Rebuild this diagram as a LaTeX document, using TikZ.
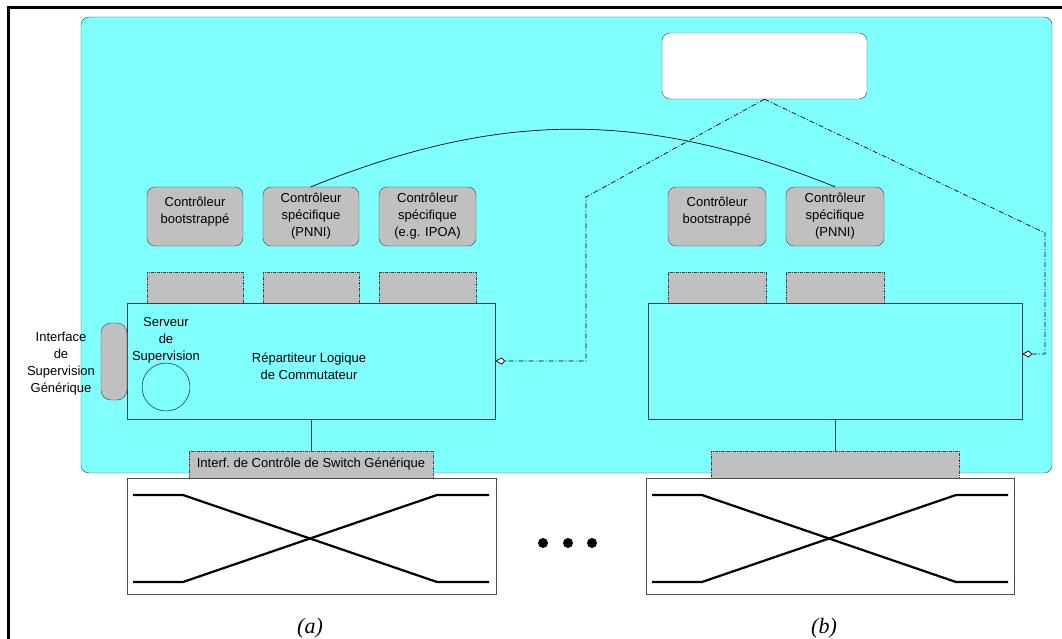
\documentclass[tikz,border=0pt]{standalone}
\usepackage{fontspec}
\setmainfont{Liberation Sans}
\newfontfamily\timesfont{Liberation Serif}
\usetikzlibrary{arrows.meta}
\definecolor{cyanbg}{RGB}{128,255,255}
\definecolor{boxgrey}{RGB}{192,192,192}
\definecolor{edge}{RGB}{55,65,65}
\begin{document}
\begin{tikzpicture}[x=1pt,y=-1pt,
  every node/.style={font=\fontsize{13}{17}\selectfont},
  ctrl/.style={draw=edge, fill=boxgrey, rounded corners=8pt, minimum height=59pt, inner sep=0pt, align=center},
  port/.style={draw=edge, fill=boxgrey, dash pattern=on 3pt off 1pt on 1pt off 1pt, minimum height=31pt, inner sep=0pt},
  mainbox/.style={draw=edge, fill=cyanbg, minimum height=116pt, inner sep=0pt},
  switchbox/.style={draw=gray!60!black, fill=white, minimum height=116pt, inner sep=0pt},
  ctl/.style={draw=black, line width=0.7pt, dash pattern=on 5pt off 2pt on 1pt off 2pt, -{Kite[open,fill=white,length=10pt,width=7pt,inset=3.5pt]}},
  xline/.style={line width=2.2pt, black},
  txt/.style={align=center, inner sep=0pt},
  captext/.style={font=\fontsize{22}{26}\timesfont\itshape, inner sep=0pt}
]
\useasboundingbox (0,0) rectangle (1062,639);
% outer frame (cut by the page on the right and bottom)
\draw[line width=3pt] (8.5,700) -- (8.5,7.5) -- (1100,7.5);
% cyan area
\draw[edge, fill=cyanbg, rounded corners=8pt] (81,17) rectangle (1052,473);
% top white box
\node[draw=edge, fill=white, rounded corners=8pt, minimum width=205pt, minimum height=66pt, inner sep=0pt] (W) at (764.5,66) {};

% controllers (a)
\node[ctrl, minimum width=96pt] (a1) at (195,216.5) {};
\node[txt] at ([yshift=5pt]a1.center) {Contrôleur\\bootstrappé};
\node[ctrl, minimum width=96pt] (a2) at (311,216.5) {Contrôleur\\spécifique\\(PNNI)};
\node[ctrl, minimum width=97pt] (a3) at (427.5,216.5) {Contrôleur\\spécifique\\(e.g. IPOA)};
% controllers (b)
\node[ctrl, minimum width=98pt] (b1) at (717,216.5) {};
\node[txt] at ([yshift=5pt]b1.center) {Contrôleur\\bootstrappé};
\node[ctrl, minimum width=98pt] (b2) at (835,216.5) {Contrôleur\\spécifique\\(PNNI)};

% arc between the two PNNI controllers
\draw[black, line width=0.7pt] (a2.north) .. controls (501,110) and (645,110) .. (b2.north);

% main boxes
\node[mainbox, minimum width=368pt] (mainA) at (311,361) {};
\node[mainbox, minimum width=374pt] (mainB) at (835,361.5) {};

% ports
\node[port, minimum width=96pt] (pa1) at (195,287.5) {};
\node[port, minimum width=96pt] (pa2) at (311,287.5) {};
\node[port, minimum width=97pt] (pa3) at (427.5,287.5) {};
\node[port, minimum width=98pt] (pb1) at (717,287.5) {};
\node[port, minimum width=98pt] (pb2) at (835,287.5) {};

% supervision interface
\node[draw=edge, fill=boxgrey, rounded corners=10pt, minimum width=26pt, minimum height=77pt, inner sep=0pt] (pill) at (114,361.5) {};
\node[txt] (pilltxt) at (61,364) {Interface\\de\\Supervision\\Générique};

% contents of main box (a)
\node[txt] (srvtxt) at (166,340) {Serveur\\de\\Supervision};
\node[draw=black, circle, minimum size=48pt, inner sep=0pt] (srv) at (166,387) {};
\node[txt] (rep) at (309,366.5) {Répartiteur Logique\\de Commutateur};

% generic switch control interfaces
\node[port, minimum width=244pt, minimum height=27pt] (ifA) at (311,464.5) {Interf.\ de Contrôle de Switch Générique};
\node[port, minimum width=248pt, minimum height=27pt] (ifB) at (835,464.5) {};
\draw[edge] (mainA.south) -- (ifA.north);
\draw[edge] (mainB.south) -- (ifB.north);

% dash-dotted control links
\coordinate (bendL) at (586,197);
\coordinate (bendR) at (1045,233);
\draw[ctl] (W.south) -- (bendL) |- (mainA.east);
\draw[ctl] (W.south) -- (bendR) |- ([yshift=7.5pt]mainB.east);

% switches
\node[switchbox, minimum width=369pt] (swA) at (311.5,536) {};
\node[switchbox, minimum width=368pt] (swB) at (830,536) {};
\draw[xline] (133,495) -- (183,495) -- (437,582) -- (489,582);
\draw[xline] (133,582) -- (183,582) -- (437,495) -- (489,495);
\draw[xline] (652,495) -- (702,495) -- (956,582) -- (1008,582);
\draw[xline] (652,582) -- (702,582) -- (956,495) -- (1008,495);

% ellipsis
\fill (543,543) circle (5pt);
\fill (568,543) circle (5pt);
\fill (592,543) circle (5pt);

% captions
\node[captext] (la) at (310,628) {(a)};
\node[captext] (lb) at (824,628) {(b)};
\end{tikzpicture}
\end{document}
